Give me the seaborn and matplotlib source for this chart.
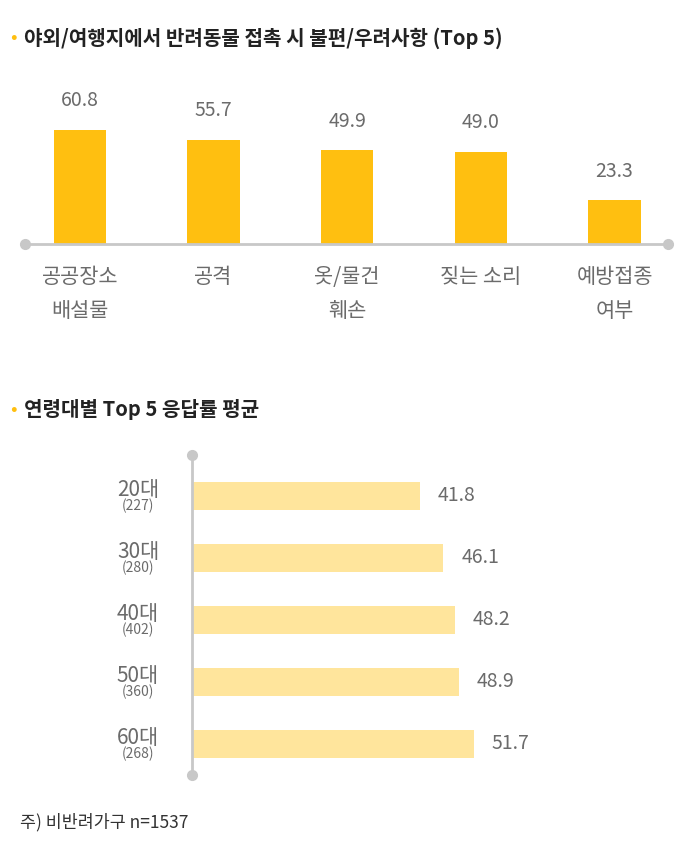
import matplotlib
matplotlib.use("Agg")
import matplotlib.pyplot as plt
import matplotlib.transforms as mtransforms
from matplotlib import font_manager
import seaborn as sns
import pandas as pd

names = {f.name for f in font_manager.fontManager.ttflist}
fams = [n for n in ["Noto Sans CJK KR", "Noto Sans CJK JP", "Noto Sans CJK SC", "Noto Sans CJK TC"] if n in names]
plt.rcParams["font.family"] = "sans-serif"
plt.rcParams["font.sans-serif"] = fams + ["DejaVu Sans"]

title1 = "야외/여행지에서 반려동물 접촉 시 불편/우려사항 (Top 5)"
cats1 = ["공공장소\n배설물", "공격", "옷/물건\n훼손", "짖는 소리", "예방접종\n여부"]
vals1 = [60.8, 55.7, 49.9, 49.0, 23.3]

title2 = "연령대별 Top 5 응답률 평균"
ages = ["20대", "30대", "40대", "50대", "60대"]
ns = ["(227)", "(280)", "(402)", "(360)", "(268)"]
vals2 = [41.8, 46.1, 48.2, 48.9, 51.7]
note = "주) 비반려가구 n=1537"

W, H = 683, 867
fig = plt.figure(figsize=(W/100, H/100), dpi=100)
grey = "#6b6b6b"
yellow = "#FFBF10"
light = "#FFE59C"
axcol = "#c8c8c8"

def fx(p): return p / W
def fy(p): return 1 - p / H

for ty, t in [(38, title1), (410, title2)]:
    fig.text(fx(10), fy(ty), "•", color=yellow, fontsize=14, va="center")
    fig.text(fx(24), fy(ty), t, color="#222222", fontsize=14.5, va="center", fontweight="bold")

ax1 = fig.add_axes([fx(25), fy(244), fx(668) - fx(25), fy(80) - fy(244)])
df1 = pd.DataFrame({"cat": cats1, "val": vals1})
sns.barplot(data=df1, x="cat", y="val", color=yellow, width=0.39, saturation=1, ax=ax1)
ax1.set_xlim(-0.41, 4.40)
ax1.set_ylim(0, 87.5)
for i, v in enumerate(vals1):
    ax1.text(i, v + 10, f"{v:.1f}", ha="center", va="bottom", color=grey, fontsize=14)
for s in ["top", "right", "left"]:
    ax1.spines[s].set_visible(False)
ax1.spines["bottom"].set_color(axcol)
ax1.spines["bottom"].set_linewidth(2)
ax1.plot([0, 1], [0, 0], transform=ax1.transAxes, marker="o", color=axcol, ms=7, lw=0, clip_on=False)
ax1.set_yticks([])
ax1.set_xlabel(""); ax1.set_ylabel("")
ax1.tick_params(axis="x", length=0, pad=16, labelsize=15, labelcolor=grey)
for lab in ax1.get_xticklabels():
    lab.set_linespacing(1.7)
    lab.set_va("top")

ax2 = fig.add_axes([fx(192), fy(775), fx(680) - fx(192), fy(455) - fy(775)])
df2 = pd.DataFrame({"age": ages, "val": vals2})
sns.barplot(data=df2, y="age", x="val", color=light, width=0.45, saturation=1, orient="h", ax=ax2)
ax2.set_xlim(0, 89.5)
ax2.set_ylim(4.5, -0.66)
for i, v in enumerate(vals2):
    ax2.text(v + 3.3, i, f"{v:.1f}", ha="left", va="center", color=grey, fontsize=14)
for s in ["top", "right", "bottom"]:
    ax2.spines[s].set_visible(False)
ax2.spines["left"].set_color(axcol)
ax2.spines["left"].set_linewidth(2)
ax2.plot([0, 0], [0, 1], transform=ax2.transAxes, marker="o", color=axcol, ms=7, lw=0, clip_on=False)
ax2.set_xticks([]); ax2.set_yticks([])
ax2.set_xlabel(""); ax2.set_ylabel("")
tr = mtransforms.blended_transform_factory(fig.transFigure, ax2.transData)
for i, (a, n) in enumerate(zip(ages, ns)):
    ax2.text(fx(138), i + 0.08, a, transform=tr, ha="center", va="bottom", color=grey, fontsize=15)
    ax2.text(fx(138), i + 0.05, n, transform=tr, ha="center", va="top", color=grey, fontsize=10)

fig.text(fx(20), fy(822), note, color="#333333", fontsize=12.5, va="center")

fig.savefig("out.png", dpi=100)
